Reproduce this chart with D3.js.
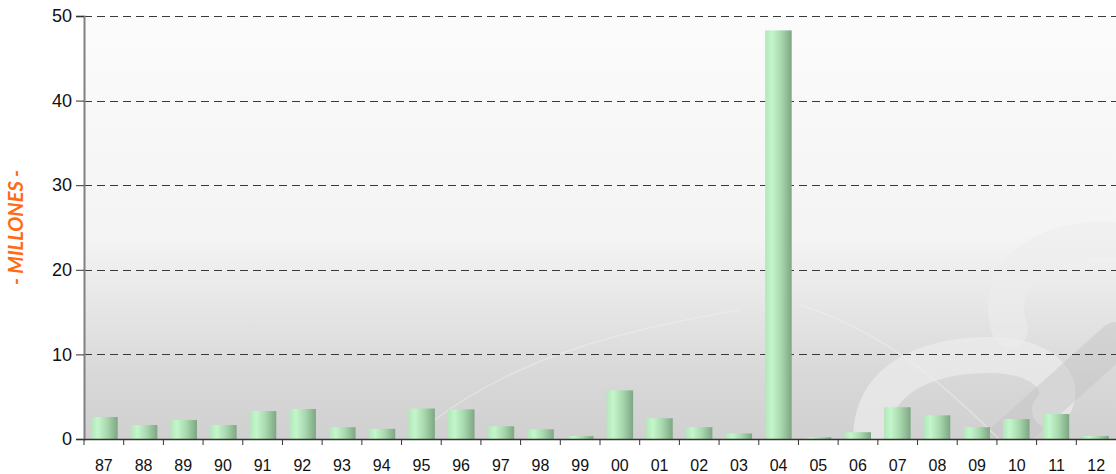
<!DOCTYPE html>
<html><head><meta charset="utf-8">
<script src="https://cdn.jsdelivr.net/npm/d3@7"></script>
<style>body{margin:0;background:#fff;}svg{display:block;font-family:Lato,"Open Sans",sans-serif;}</style>
</head><body><div id="chart"></div>
<script>
const categories = ["87","88","89","90","91","92","93","94","95","96","97","98","99","00","01","02","03","04","05","06","07","08","09","10","11","12"];
const values = [2.6,1.65,2.25,1.65,3.3,3.55,1.4,1.2,3.6,3.5,1.5,1.15,0.35,5.75,2.45,1.4,0.65,48.3,0.2,0.8,3.75,2.8,1.4,2.35,2.95,0.35];
const yTicks = [0,10,20,30,40,50];
const yLabel = "- MILLONES -";

const W = 1116, H = 474;
const m = {left:84, right:0, top:16, bottom:35};
const svg = d3.select("#chart").append("svg").attr("width",W).attr("height",H);
const defs = svg.append("defs");
const bg = defs.append("linearGradient").attr("id","bg").attr("x1",0).attr("y1",0).attr("x2",0).attr("y2",1);
[[0,"#fbfbfb"],[0.52,"#f4f4f4"],[0.64,"#eaeaea"],[0.85,"#d8d8d8"],[1,"#d0d0d0"]].forEach(s=>bg.append("stop").attr("offset",s[0]).attr("stop-color",s[1]));
const bar = defs.append("linearGradient").attr("id","bar").attr("x1",0).attr("y1",0).attr("x2",1).attr("y2",0);
[[0,"#b4e6bb"],[0.25,"#c4f6cb"],[0.6,"#a8d8ae"],[1,"#7ea683"]].forEach(s=>bar.append("stop").attr("offset",s[0]).attr("stop-color",s[1]));

const x = d3.scaleBand().domain(categories).range([m.left, W-m.right]).paddingInner(0.33).paddingOuter(0.18);
const xb = d3.scaleBand().domain(categories).range([m.left, W-m.right]);
const y = d3.scaleLinear().domain([0,50]).range([H-m.bottom, m.top]);

// plot background
svg.append("rect").attr("x",m.left).attr("y",m.top).attr("width",W-m.left-m.right).attr("height",y(0)-m.top).attr("fill","url(#bg)");
// watermark
const clip = defs.append("clipPath").attr("id","pc").append("rect").attr("x",m.left).attr("y",m.top).attr("width",W-m.left).attr("height",y(0)-m.top);
const wm = svg.append("g").attr("fill","none").attr("stroke-linecap","round").attr("clip-path","url(#pc)");
wm.append("path").attr("d","M880,480 C850,400 900,355 990,355 C1050,355 1070,390 1050,410").attr("stroke","#ececec").attr("stroke-width",36).attr("opacity",0.7);
wm.append("path").attr("d","M1010,330 C990,270 1050,235 1116,240").attr("stroke","#ececec").attr("stroke-width",36).attr("opacity",0.6);
wm.append("path").attr("d","M960,480 L1116,340").attr("stroke","#c4c4c4").attr("stroke-width",36).attr("opacity",0.45);
wm.append("path").attr("d","M410,440 C500,360 620,330 740,310").attr("stroke","#f0f0f0").attr("stroke-width",1.5).attr("opacity",0.5);
wm.append("path").attr("d","M800,305 C880,330 940,380 1000,440").attr("stroke","#f0f0f0").attr("stroke-width",1.5).attr("opacity",0.5);

// gridlines
svg.append("g").selectAll("line").data(yTicks.filter(d=>d>0)).join("line")
  .attr("x1",m.left).attr("x2",W).attr("y1",d=>Math.round(y(d))+0.5).attr("y2",d=>Math.round(y(d))+0.5)
  .attr("stroke","#3a3a3a").attr("stroke-dasharray","8,5");

// bars
svg.append("g").selectAll("rect").data(categories).join("rect")
  .attr("x",d=>x(d)).attr("width",x.bandwidth())
  .attr("y",(d,i)=>y(values[i])).attr("height",(d,i)=>y(0)-y(values[i]))
  .attr("fill","url(#bar)");

// y axis
const ya = svg.append("g").attr("transform",`translate(${m.left},0)`)
  .call(d3.axisLeft(y).tickValues(yTicks).tickSize(8).tickPadding(4));
ya.select(".domain").attr("stroke","#808080").attr("stroke-width",2);
ya.selectAll(".tick line").attr("stroke","#333");
ya.selectAll("text").attr("font-size",18).attr("fill","#111");

// x axis
const xa = svg.append("g").attr("transform",`translate(0,${y(0)})`)
  .call(d3.axisBottom(xb).tickSize(0).tickPadding(21));
xa.select(".domain").remove();
xa.selectAll("text").attr("font-size",16).attr("fill","#111");
svg.append("line").attr("x1",m.left).attr("x2",W).attr("y1",y(0)+0.5).attr("y2",y(0)+0.5).attr("stroke","#333").attr("stroke-width",1.5);
svg.append("g").selectAll("line").data(categories).join("line")
  .attr("x1",d=>xb(d)).attr("x2",d=>xb(d)).attr("y1",y(0)).attr("y2",y(0)+6).attr("stroke","#333");

// y label
svg.append("text").attr("transform",`translate(23,${(m.top+y(0))/2}) rotate(-90)`)
  .attr("text-anchor","middle").attr("font-size",20).attr("font-weight","bold").attr("font-style","italic")
  .attr("fill","#ff6a13").text(yLabel);
</script></body></html>
